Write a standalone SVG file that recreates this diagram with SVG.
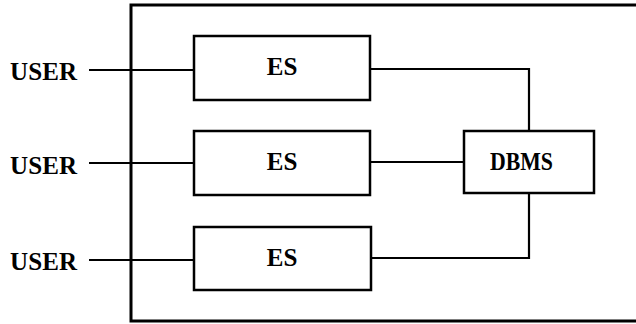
<svg xmlns="http://www.w3.org/2000/svg" width="636" height="324" viewBox="0 0 636 324">
<style>
.box{fill:#fff;stroke:#000;stroke-width:2.5}
.frame{fill:none;stroke:#000;stroke-width:3}
.ln{fill:none;stroke:#000;stroke-width:2.2}
text{font-family:"Liberation Serif",serif;font-weight:bold;font-size:25px;fill:#000}
.c{text-anchor:middle}
</style>
<rect width="636" height="324" fill="#fff"/>
<g id="frame"><path class="frame" d="M640,5 H131 V321 H640"/></g>
<g id="connectors">
<path class="ln" d="M89,70 H194"/>
<path class="ln" d="M89,163 H194"/>
<path class="ln" d="M89,260 H194"/>
<path class="ln" d="M370,69 H529 V131"/>
<path class="ln" d="M370,162 H464"/>
<path class="ln" d="M371,258 H529 V193"/>
</g>
<g id="user1"><text x="10" y="80" textLength="67">USER</text></g>
<g id="user2"><text x="10" y="174" textLength="67">USER</text></g>
<g id="user3"><text x="10" y="270" textLength="67">USER</text></g>
<g id="es1"><rect class="box" x="194" y="36" width="176" height="64"/><text class="c" x="282" y="75">ES</text></g>
<g id="es2"><rect class="box" x="194" y="131" width="176" height="64"/><text class="c" x="282" y="170">ES</text></g>
<g id="es3"><rect class="box" x="194" y="227" width="177" height="63"/><text class="c" x="282" y="266">ES</text></g>
<g id="dbms"><rect class="box" x="464" y="131" width="130" height="62"/><text x="490" y="170" textLength="63" lengthAdjust="spacingAndGlyphs">DBMS</text></g>
</svg>
